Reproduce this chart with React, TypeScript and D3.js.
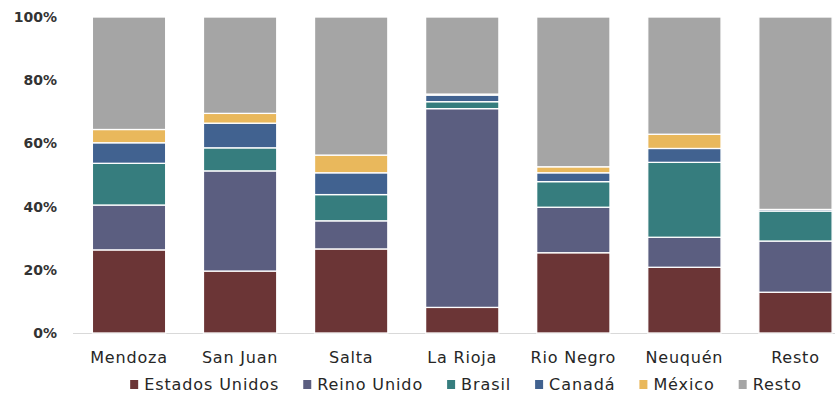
import React, { useEffect, useRef } from "react";
import * as d3 from "d3";

const categories = ["Mendoza", "San Juan", "Salta", "La Rioja", "Rio Negro", "Neuquén", "Resto"];
const seriesNames = ["Estados Unidos", "Reino Unido", "Brasil", "Canadá", "México", "Resto"];
const estadosUnidos = [26.3, 19.6, 26.6, 8.1, 25.4, 20.8, 12.9];
const reinoUnido = [14.2, 31.7, 8.9, 62.9, 14.4, 9.5, 16.2];
const brasil = [13.2, 7.3, 8.3, 2.2, 8.1, 23.7, 9.5];
const canada = [6.5, 7.8, 6.9, 2.1, 2.8, 4.4, 0.5];
const mexico = [4.2, 3.1, 5.6, 0.3, 1.9, 4.5, 0.0];
const resto = [35.6, 30.5, 43.7, 24.4, 47.4, 37.1, 60.9];
const yTicks = [0, 20, 40, 60, 80, 100];
const colors = ["#6b3536", "#5b5e80", "#367d7e", "#416290", "#e9b85c", "#a5a5a5"];

const W = 835;
const H = 393;
const FONT = "'DejaVu Sans', sans-serif";

export default function App() {
  const ref = useRef<SVGSVGElement | null>(null);

  useEffect(() => {
    const svg = d3.select(ref.current);
    svg.selectAll("*").remove();

    const rows = categories.map((c, i) => ({
      cat: c,
      "Estados Unidos": estadosUnidos[i],
      "Reino Unido": reinoUnido[i],
      Brasil: brasil[i],
      "Canadá": canada[i],
      "México": mexico[i],
      Resto: resto[i],
    }));
    const normalized = rows.map((r: any) => {
      const tot = seriesNames.reduce((s, k) => s + r[k], 0);
      const o: any = { cat: r.cat };
      seriesNames.forEach((k) => (o[k] = (r[k] / tot) * 100));
      return o;
    });
    const stack = d3.stack<any>().keys(seriesNames)(normalized);

    const x = d3.scaleBand<string>().domain(categories).range([73.5, 851]).paddingInner(0.34).paddingOuter(0.17);
    const y = d3.scaleLinear().domain([0, 100]).range([333, 17]);

    svg.append("line").attr("x1", 73).attr("x2", W).attr("y1", 333.5).attr("y2", 333.5)
      .attr("stroke", "#d9d9d9").attr("stroke-width", 1);

    stack.forEach((layer, li) => {
      svg.append("g").selectAll("rect").data(layer).join("rect")
        .attr("x", (d: any) => x(d.data.cat)!)
        .attr("width", x.bandwidth())
        .attr("y", (d: any) => y(d[1]))
        .attr("height", (d: any) => Math.max(0, y(d[0]) - y(d[1])))
        .attr("fill", colors[li])
        .attr("stroke", "#ffffff")
        .attr("stroke-width", (d: any) => (d[1] - d[0] > 0 ? 1.3 : 0));
    });

    svg.append("g").selectAll("text").data(yTicks).join("text")
      .attr("x", 57).attr("y", (d) => y(d) + 5)
      .attr("text-anchor", "end")
      .attr("font-family", FONT).attr("font-size", 14).attr("font-weight", 600)
      .attr("fill", "#333333")
      .text((d) => d + "%");

    svg.append("g").selectAll("text").data(categories).join("text")
      .attr("x", (d) => x(d)! + x.bandwidth() / 2).attr("y", 363)
      .attr("text-anchor", "middle")
      .attr("font-family", FONT).attr("font-size", 16)
      .attr("letter-spacing", 0.8)
      .attr("fill", "#262626")
      .text((d) => d);

    const lg = svg.append("g");
    const items = seriesNames.map((n, i) => {
      const g = lg.append("g");
      g.append("rect").attr("x", 0).attr("y", -10).attr("width", 8).attr("height", 9).attr("fill", colors[i]);
      const t = g.append("text").attr("x", 14).attr("y", 0)
        .attr("font-family", FONT).attr("font-size", 16)
        .attr("letter-spacing", 0.9)
        .attr("fill", "#262626").text(n);
      const w = (t.node() as SVGTextElement).getComputedTextLength();
      return { g, w: 14 + w };
    });
    const gap = 24;
    const total = items.reduce((s, it) => s + it.w, 0) + gap * (items.length - 1);
    let cx = 466 - total / 2;
    items.forEach((it) => {
      it.g.attr("transform", `translate(${cx},390)`);
      cx += it.w + gap;
    });
  }, []);

  return (
    <svg ref={ref} width={W} height={H} style={{ display: "block", position: "absolute", left: 0, top: 0, background: "#fff" }} />
  );
}
